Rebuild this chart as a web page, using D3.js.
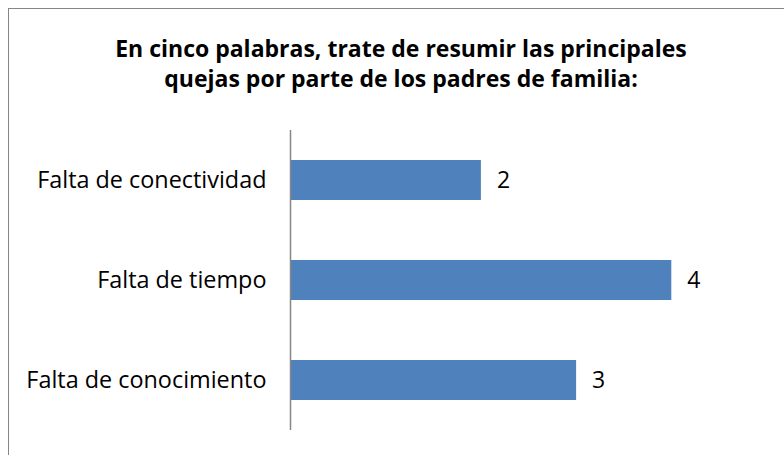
<!DOCTYPE html>
<html>
<head>
<meta charset="utf-8">
<script src="https://cdn.jsdelivr.net/npm/d3@7"></script>
<style>
  body { margin: 0; background: #fff; }
  svg { display: block; }
</style>
</head>
<body>
<div id="chart"></div>
<script>
// chart data
var categories = ["Falta de conectividad", "Falta de tiempo", "Falta de conocimiento"];
var values = [2, 4, 3];
var titleLines = ["En cinco palabras, trate de resumir las principales",
                  "quejas por parte de los padres de familia:"];

var width = 784, height = 455;
var font = "'Open Sans', sans-serif";

var svg = d3.select("#chart").append("svg")
    .attr("width", width)
    .attr("height", height);

// chart frame (only left and top are visible in the crop)
svg.append("rect")
    .attr("x", 8.5)
    .attr("y", 8.5)
    .attr("width", width + 20)
    .attr("height", height + 20)
    .style("fill", "#fff")
    .style("stroke", "#868686")
    .style("stroke-width", 1);

// title
svg.append("g").selectAll("text")
    .data(titleLines)
    .enter().append("text")
    .attr("x", 401)
    .attr("y", function(d, i) { return 57 + i * 30; })
    .attr("text-anchor", "middle")
    .style("font-family", font)
    .style("font-weight", "bold")
    .style("font-size", "23px")
    .style("fill", "#000")
    .text(function(d) { return d; });

var x = d3.scaleLinear()
    .domain([0, 4])
    .range([290.5, 671.3]);

var y = d3.scaleBand()
    .domain(categories)
    .range([130, 430])
    .paddingInner(0.6)
    .paddingOuter(0.3);

// bars
svg.append("g").selectAll("rect")
    .data(values)
    .enter().append("rect")
    .attr("x", x(0))
    .attr("y", function(d, i) { return y(categories[i]); })
    .attr("width", function(d) { return x(d) - x(0); })
    .attr("height", y.bandwidth())
    .style("fill", "#4F81BD");

// value labels
svg.append("g").selectAll("text")
    .data(values)
    .enter().append("text")
    .attr("x", function(d) { return x(d) + 16; })
    .attr("y", function(d, i) { return y(categories[i]) + y.bandwidth() / 2; })
    .attr("dy", "0.35em")
    .style("font-family", font)
    .style("font-size", "23px")
    .style("fill", "#000")
    .text(function(d) { return d; });

// category axis
var yAxis = d3.axisLeft(y).tickSize(0).tickPadding(24);
var axisG = svg.append("g")
    .attr("transform", "translate(" + x(0) + ",0)")
    .call(yAxis);
axisG.select(".domain")
    .attr("d", "M0," + y.range()[0] + "V" + y.range()[1])
    .style("stroke", "#868686")
    .style("stroke-width", 1.5);
axisG.selectAll(".tick text")
    .style("font-family", font)
    .style("font-size", "23.4px")
    .style("fill", "#000");
</script>
</body>
</html>
